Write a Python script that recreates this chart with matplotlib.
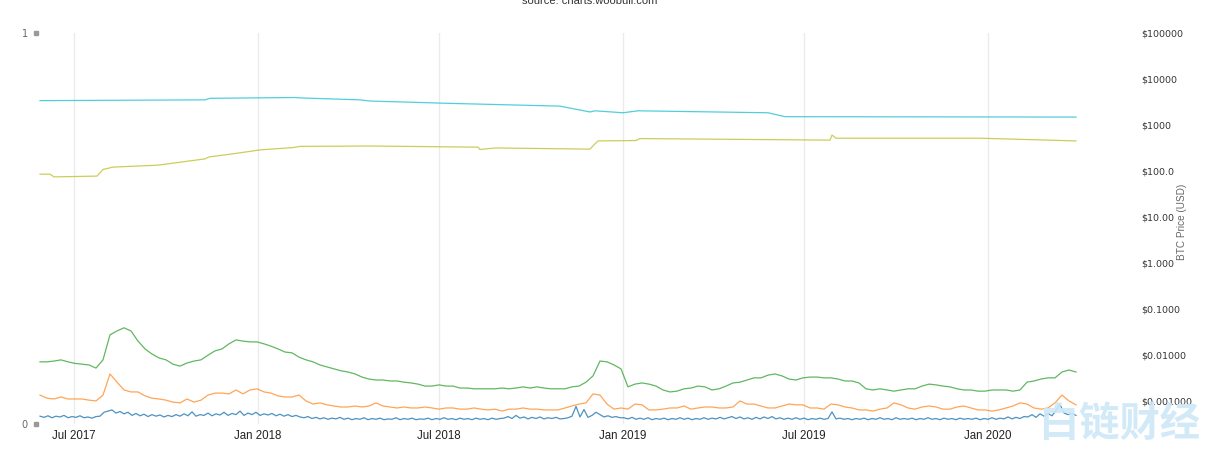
import matplotlib
matplotlib.use('Agg')
import matplotlib.pyplot as plt
import matplotlib.dates as mdates
from matplotlib.ticker import FixedLocator, FixedFormatter, NullLocator
import pandas as pd

# ---------------- data ----------------
weekly_start = '2017-05-28'   # weekly samples for green / orange
blue_start = '2017-05-28'     # 4-day samples for blue

green = [0.159, 0.159, 0.161, 0.164, 0.159, 0.155, 0.153, 0.151, 0.143, 0.164,
         0.228, 0.238, 0.246, 0.238, 0.212, 0.192, 0.179, 0.169, 0.164, 0.153,
         0.148, 0.156, 0.161, 0.164, 0.176, 0.187, 0.192, 0.205, 0.215, 0.212,
         0.210, 0.210, 0.205, 0.199, 0.192, 0.184, 0.182, 0.171, 0.164, 0.159,
         0.151, 0.146, 0.141, 0.136, 0.133, 0.128, 0.120, 0.115, 0.1125, 0.1125,
         0.110, 0.110, 0.107, 0.105, 0.102, 0.097, 0.097, 0.100, 0.097, 0.097,
         0.092, 0.092, 0.090, 0.090, 0.090, 0.090, 0.092, 0.090, 0.092, 0.095,
         0.092, 0.095, 0.092, 0.090, 0.090, 0.090, 0.095, 0.097, 0.107, 0.123,
         0.161, 0.159, 0.151, 0.141, 0.095, 0.102, 0.105, 0.102, 0.097, 0.087,
         0.082, 0.084, 0.090, 0.092, 0.097, 0.095, 0.087, 0.090, 0.097, 0.105,
         0.107, 0.1125, 0.118, 0.118, 0.125, 0.128, 0.123, 0.115, 0.1125, 0.118,
         0.120, 0.120, 0.118, 0.118, 0.115, 0.110, 0.110, 0.105, 0.090, 0.087,
         0.090, 0.087, 0.084, 0.087, 0.090, 0.090, 0.097, 0.102, 0.100, 0.097,
         0.095, 0.090, 0.087, 0.087, 0.084, 0.084, 0.087, 0.087, 0.087, 0.084,
         0.087, 0.107, 0.110, 0.115, 0.118, 0.118, 0.133, 0.138, 0.133]

orange = [0.074, 0.066, 0.064, 0.069, 0.064, 0.064, 0.064, 0.061, 0.059, 0.074,
          0.128, 0.107, 0.087, 0.082, 0.082, 0.072, 0.066, 0.064, 0.061, 0.056,
          0.054, 0.064, 0.056, 0.061, 0.074, 0.079, 0.079, 0.077, 0.087, 0.077,
          0.087, 0.090, 0.082, 0.079, 0.072, 0.069, 0.069, 0.074, 0.059, 0.051,
          0.054, 0.049, 0.046, 0.0435, 0.0435, 0.046, 0.0435, 0.046, 0.054, 0.046,
          0.0435, 0.041, 0.0435, 0.041, 0.041, 0.0435, 0.041, 0.038, 0.041, 0.041,
          0.038, 0.038, 0.041, 0.038, 0.036, 0.038, 0.033, 0.038, 0.038, 0.041,
          0.038, 0.038, 0.036, 0.036, 0.036, 0.041, 0.046, 0.051, 0.054, 0.077,
          0.074, 0.051, 0.038, 0.041, 0.038, 0.051, 0.049, 0.036, 0.036, 0.038,
          0.041, 0.041, 0.046, 0.038, 0.041, 0.0435, 0.0435, 0.041, 0.041, 0.0435,
          0.059, 0.051, 0.051, 0.046, 0.041, 0.041, 0.046, 0.051, 0.049, 0.049,
          0.041, 0.041, 0.038, 0.051, 0.049, 0.0435, 0.041, 0.036, 0.036, 0.033,
          0.038, 0.041, 0.054, 0.049, 0.041, 0.038, 0.0435, 0.046, 0.0435, 0.038,
          0.038, 0.0435, 0.046, 0.041, 0.036, 0.036, 0.033, 0.036, 0.041, 0.046,
          0.054, 0.051, 0.041, 0.038, 0.041, 0.054, 0.074, 0.059, 0.049]

blue_a = [0.020, 0.017, 0.021, 0.016, 0.020, 0.018, 0.022, 0.016, 0.019, 0.017,
          0.021, 0.016, 0.018, 0.015, 0.019]
blue_b = [0.020, 0.030, 0.033, 0.036, 0.028, 0.032, 0.026, 0.030]
blue_c = [0.022, 0.027, 0.021, 0.025, 0.019, 0.024, 0.020, 0.023, 0.018, 0.022,
          0.019, 0.024, 0.020, 0.026, 0.021, 0.031, 0.020, 0.024, 0.022, 0.028,
          0.021, 0.026, 0.023, 0.030, 0.022, 0.027, 0.024, 0.033, 0.022, 0.028,
          0.024, 0.030, 0.022, 0.026, 0.023, 0.027, 0.021, 0.025, 0.020, 0.024,
          0.019, 0.022, 0.018]
blue_d = [0.016, 0.019, 0.014, 0.017, 0.013, 0.016, 0.012, 0.015, 0.013, 0.017,
          0.012, 0.015, 0.011, 0.014, 0.012, 0.016, 0.011, 0.014, 0.012, 0.015,
          0.011, 0.013, 0.012, 0.016, 0.011, 0.014, 0.012, 0.015, 0.011, 0.013,
          0.012, 0.015, 0.011, 0.014, 0.012, 0.016, 0.012, 0.014, 0.011, 0.015,
          0.012, 0.014, 0.011, 0.015, 0.012, 0.014, 0.011, 0.015, 0.012, 0.014]
blue_e = [0.015, 0.019, 0.014, 0.022, 0.015, 0.018, 0.013, 0.017, 0.014, 0.018,
          0.013, 0.016, 0.014, 0.017, 0.013]
blue_f = [0.014, 0.016, 0.020, 0.045, 0.018, 0.037, 0.017, 0.022, 0.030, 0.024,
          0.018, 0.021, 0.017, 0.019, 0.016]
blue_g = [0.016, 0.013, 0.017, 0.012, 0.015, 0.012, 0.016, 0.011, 0.014, 0.012,
          0.015, 0.011, 0.014, 0.012, 0.016, 0.012, 0.015, 0.011, 0.014, 0.012,
          0.016, 0.012, 0.015, 0.013, 0.017, 0.013, 0.016, 0.019, 0.014, 0.018,
          0.013, 0.016, 0.012, 0.017, 0.013, 0.018, 0.014, 0.019, 0.013, 0.016,
          0.012, 0.015, 0.012, 0.016, 0.012, 0.015, 0.011, 0.014, 0.012, 0.015,
          0.012, 0.014, 0.031, 0.013, 0.015, 0.012, 0.014, 0.011, 0.014, 0.012,
          0.015, 0.011, 0.014, 0.012, 0.016, 0.012, 0.014, 0.011, 0.016, 0.012,
          0.014, 0.012, 0.015, 0.011, 0.014, 0.012, 0.016, 0.012, 0.014, 0.011,
          0.015, 0.012, 0.014, 0.011, 0.015, 0.012, 0.014, 0.012, 0.015, 0.011,
          0.014, 0.012, 0.016, 0.012, 0.015, 0.013, 0.018, 0.013, 0.017, 0.014,
          0.019]
blue_h = [0.018, 0.024, 0.017, 0.026, 0.020, 0.027, 0.021, 0.035, 0.050, 0.028,
          0.024, 0.027, 0.022]
blue = blue_a + blue_b + blue_c + blue_d + blue_e + blue_f + blue_g + blue_h

cyan_dates = ['2017-05-28', '2017-11-09', '2017-11-14', '2018-02-07', '2018-02-12',
              '2018-04-13', '2018-04-23', '2018-07-12', '2018-10-30', '2018-11-29',
              '2018-12-04', '2019-01-01', '2019-01-16', '2019-05-26', '2019-06-12',
              '2020-03-29']
cyan = [0.827, 0.829, 0.833, 0.835, 0.834, 0.829, 0.826, 0.820, 0.813, 0.798,
        0.801, 0.796, 0.801, 0.796, 0.786, 0.785]

olive_dates = ['2017-05-28', '2017-06-07', '2017-06-11', '2017-07-24', '2017-07-30',
               '2017-08-09', '2017-09-23', '2017-11-09', '2017-11-13', '2017-12-07',
               '2018-01-03', '2018-02-05', '2018-02-12', '2018-04-23', '2018-08-09',
               '2018-08-11', '2018-08-26', '2018-11-29', '2018-12-03', '2018-12-07',
               '2019-01-14', '2019-01-18', '2019-07-27', '2019-07-29', '2019-08-02',
               '2019-12-23', '2020-03-29']
olive = [0.639, 0.639, 0.632, 0.634, 0.651, 0.657, 0.662, 0.678, 0.683, 0.691,
         0.701, 0.707, 0.710, 0.711, 0.708, 0.702, 0.706, 0.703, 0.714, 0.724,
         0.725, 0.730, 0.726, 0.739, 0.731, 0.731, 0.724]

right_ticks = [1e-3, 1e-2, 1e-1, 1e0, 1e1, 1e2, 1e3, 1e4, 1e5]
right_labels = ['$0.001000', '$0.01000', '$0.1000', '$1.000', '$10.00',
                '$100.0', '$1000', '$10000', '$100000']
left_ticks = [0, 1]
left_labels = ['0', '1']

# ---------------- figure ----------------
W, H = 1209, 461
fig = plt.figure(figsize=(W / 100, H / 100), dpi=100)
ax = fig.add_axes([39 / W, 1 - 424 / H, (1130 - 39) / W, (424 - 33) / H])

sans = ['Liberation Sans', 'DejaVu Sans']

wk_dates = pd.date_range(weekly_start, periods=len(green), freq='7D')
bl_dates = pd.date_range(blue_start, periods=len(blue), freq='4D')

lw = 0.9
ax.plot(bl_dates, blue, color='#1f77b4', lw=lw, alpha=0.8, zorder=3)
ax.plot(pd.date_range(weekly_start, periods=len(orange), freq='7D'), orange,
        color='#ff7f0e', lw=lw, alpha=0.7, zorder=3)
ax.plot(wk_dates, green, color='#2ca02c', lw=lw, alpha=0.75, zorder=3)
ax.plot(pd.to_datetime(olive_dates), olive, color='#bcbd22', lw=lw, alpha=0.75, zorder=3)
ax.plot(pd.to_datetime(cyan_dates), cyan, color='#17becf', lw=lw, alpha=0.75, zorder=3)

x0 = pd.Timestamp('2017-07-01')
ax.set_xlim(x0 - pd.Timedelta(days=35), x0 + pd.Timedelta(days=1056))
ax.set_ylim(0, 1)

ax.xaxis.set_major_locator(mdates.MonthLocator(bymonth=[1, 7]))
ax.xaxis.set_major_formatter(mdates.DateFormatter('%b %Y'))
ax.tick_params(axis='x', length=0, pad=4, labelsize=8.3, labelcolor='#222',
               labelfontfamily=sans)
ax.grid(axis='x', color='#ebebeb', lw=1)
ax.set_axisbelow(True)

ax.set_yticks(left_ticks)
ax.set_yticklabels(left_labels)
ax.tick_params(axis='y', length=0, pad=8, labelsize=7, labelcolor='#666')
ax.plot([-0.0032, -0.0032], left_ticks, 's', ms=3, color='#999',
        transform=ax.get_yaxis_transform(), clip_on=False)

for s in ax.spines.values():
    s.set_visible(False)

ax2 = ax.twinx()
ax2.set_yscale('log')
ax2.set_ylim(10 ** -3.5, 1e5)
ax2.yaxis.set_major_locator(FixedLocator(right_ticks))
ax2.yaxis.set_major_formatter(FixedFormatter(right_labels))
ax2.yaxis.set_minor_locator(NullLocator())
ax2.tick_params(axis='y', length=0, pad=8, labelsize=6.8, labelcolor='#333')
for s in ax2.spines.values():
    s.set_visible(False)

fig.text(1182 / W, 1 - 222 / H, 'BTC Price (USD)', rotation=90, ha='center',
         va='center', fontsize=7.2, color='#666', family=sans)
fig.text(590 / W, 1 - 4 / H, 'source: charts.woobull.com', ha='center',
         va='baseline', fontsize=8, color='#333', family=sans)

fig.text(1120 / W, 1 - 424 / H, '白链财经', ha='center', va='center',
         fontsize=29, fontweight='bold', color='#cde8f8', alpha=0.9,
         family=['Noto Sans CJK SC', 'DejaVu Sans'], zorder=10)

fig.savefig('out.png', dpi=100)
